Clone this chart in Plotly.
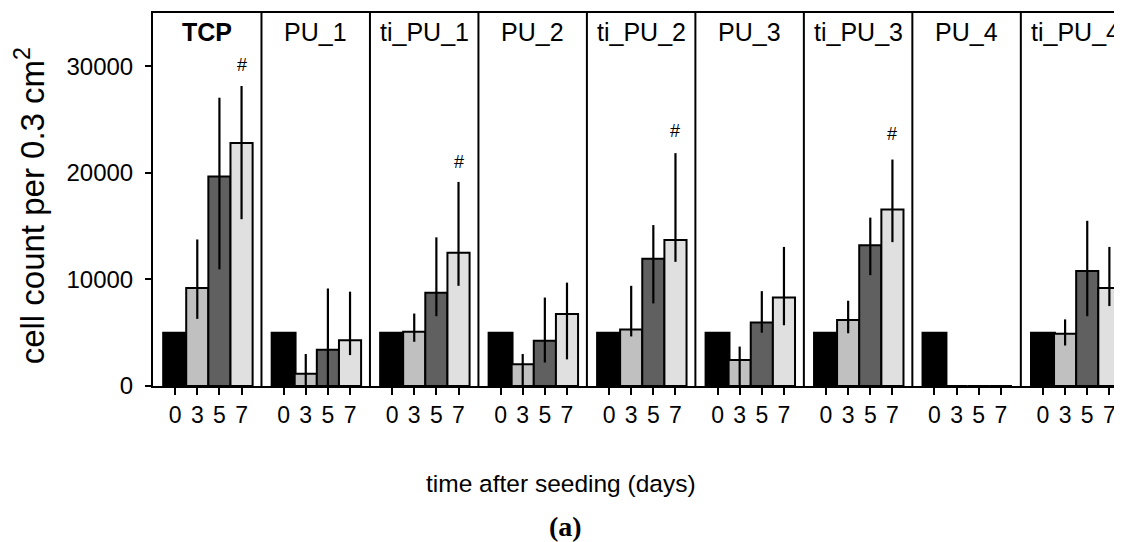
import plotly.graph_objects as go

# ---------------- data ----------------
groups = ["TCP", "PU_1", "ti_PU_1", "PU_2", "ti_PU_2", "PU_3", "ti_PU_3", "PU_4", "ti_PU_4"]
day_labels = ["0", "3", "5", "7"]

day0 = [5000, 5000, 5000, 5000, 5000, 5000, 5000, 5000, 5000]
day3 = [9200, 1150, 5100, 2050, 5300, 2450, 6200, 0, 4900]
day5 = [19650, 3400, 8750, 4250, 11950, 5950, 13200, 0, 10800]
day7 = [22800, 4300, 12500, 6750, 13700, 8300, 16550, 0, 9200]

# error bar ends (upper / lower)
day3_hi = [13750, 3000, 6800, 3000, 9400, 3700, 8000, 0, 6250]
day3_lo = [6300, 0, 4150, 0, 4650, 0, 4950, 0, 3800]
day5_hi = [27050, 9150, 13950, 8300, 15100, 8900, 15800, 0, 15500]
day5_lo = [10950, 0, 6550, 2200, 7750, 5000, 10400, 0, 6550]
day7_hi = [28150, 8850, 19150, 9700, 21850, 13050, 21250, 0, 13050]
day7_lo = [15650, 2900, 9400, 2500, 11650, 5700, 13500, 0, 7500]

# "#" significance marks (y position, None = no mark), above day-7 bars
hash_y = [30100, None, 21000, None, 23900, None, 23600, None, None]

y_ticks = [0, 10000, 20000, 30000]

# ---------------- styling / layout ----------------
colors = ["#000000", "#c0c0c0", "#606060", "#e0e0e0"]
bar_widths = [1.08, 1.0, 1.0, 1.0]
PANEL = 4.9          # panel width in x units
FIRST = 1.0          # first tick offset within a panel
FONT = "Liberation Sans, Arial, sans-serif"

values = [day0, day3, day5, day7]
his = [None, day3_hi, day5_hi, day7_hi]
los = [None, day3_lo, day5_lo, day7_lo]


def xpos(gi, di):
    return gi * PANEL + FIRST + di


fig = go.Figure()
for di, vals in enumerate(values):
    xs = [xpos(gi, di) for gi in range(len(groups))]
    err = None
    if his[di] is not None:
        plus = [h - v for h, v in zip(his[di], vals)]
        minus = [v - l for v, l in zip(vals, los[di])]
        err = dict(type="data", symmetric=False, array=plus, arrayminus=minus,
                   color="black", thickness=2.2, width=0, visible=True)
    fig.add_trace(go.Bar(
        x=xs, y=vals, width=[bar_widths[di]] * len(xs),
        marker=dict(color=colors[di], line=dict(color="black", width=2)),
        error_y=err if err else dict(visible=False),
        name=day_labels[di], showlegend=False,
    ))

tickvals, ticktext = [], []
for gi in range(len(groups)):
    for di, lab in enumerate(day_labels):
        tickvals.append(xpos(gi, di))
        ticktext.append(lab)

shapes = []
for gi in range(1, len(groups)):
    shapes.append(dict(type="line", xref="x", yref="paper", x0=gi * PANEL, x1=gi * PANEL,
                       y0=0, y1=1, line=dict(color="black", width=2)))

annotations = []
for gi, g in enumerate(groups):
    txt = f"<b>{g}</b>" if g == "TCP" else g
    annotations.append(dict(x=gi * PANEL + PANEL / 2, y=0.95, xref="x", yref="paper",
                            text=txt, showarrow=False, xanchor="center", yanchor="middle",
                            font=dict(family=FONT, size=25, color="black")))
    if hash_y[gi] is not None:
        annotations.append(dict(x=xpos(gi, 3), y=hash_y[gi], xref="x", yref="y",
                                text="#", showarrow=False, xanchor="center", yanchor="middle",
                                font=dict(family=FONT, size=18, color="black")))

annotations.append(dict(x=-0.126, y=0.484, xref="paper", yref="paper",
                        text="cell count per 0.3 cm<sup>2</sup>", textangle=-90,
                        showarrow=False, xanchor="center", yanchor="middle",
                        font=dict(family=FONT, size=33, color="black")))
annotations.append(dict(x=0.4212, y=-0.262, xref="paper", yref="paper",
                        text="time after seeding (days)", showarrow=False,
                        xanchor="center", yanchor="middle",
                        font=dict(family=FONT, size=24.5, color="black")))
annotations.append(dict(x=0.4262, y=-0.378, xref="paper", yref="paper",
                        text="<b>(a)</b>", showarrow=False,
                        xanchor="center", yanchor="middle",
                        font=dict(family="Liberation Serif, Times New Roman, serif", size=28, color="black")))

fig.update_layout(
    width=1114, height=534,
    margin=dict(l=145, r=0, t=5, b=156, autoexpand=False),
    paper_bgcolor="white", plot_bgcolor="white",
    barmode="overlay",
    shapes=shapes, annotations=annotations,
    xaxis=dict(range=[0, 43.77], tickmode="array", tickvals=tickvals, ticktext=ticktext,
               ticks="outside", ticklen=7, tickwidth=2, tickcolor="black",
               showline=True, linewidth=2, linecolor="black", mirror=True,
               showgrid=False, zeroline=False, automargin=False,
               tickfont=dict(family=FONT, size=23, color="black")),
    yaxis=dict(range=[0, 35000], tickmode="array", tickvals=y_ticks,
               ticktext=[str(v) for v in y_ticks],
               ticks="outside", ticklen=6, tickwidth=2, tickcolor="black",
               showline=True, linewidth=2, linecolor="black",
               showgrid=False, zeroline=False, automargin=False,
               ticklabelstandoff=7,
               tickfont=dict(family=FONT, size=24, color="black")),
)

fig.write_html("out.html")
